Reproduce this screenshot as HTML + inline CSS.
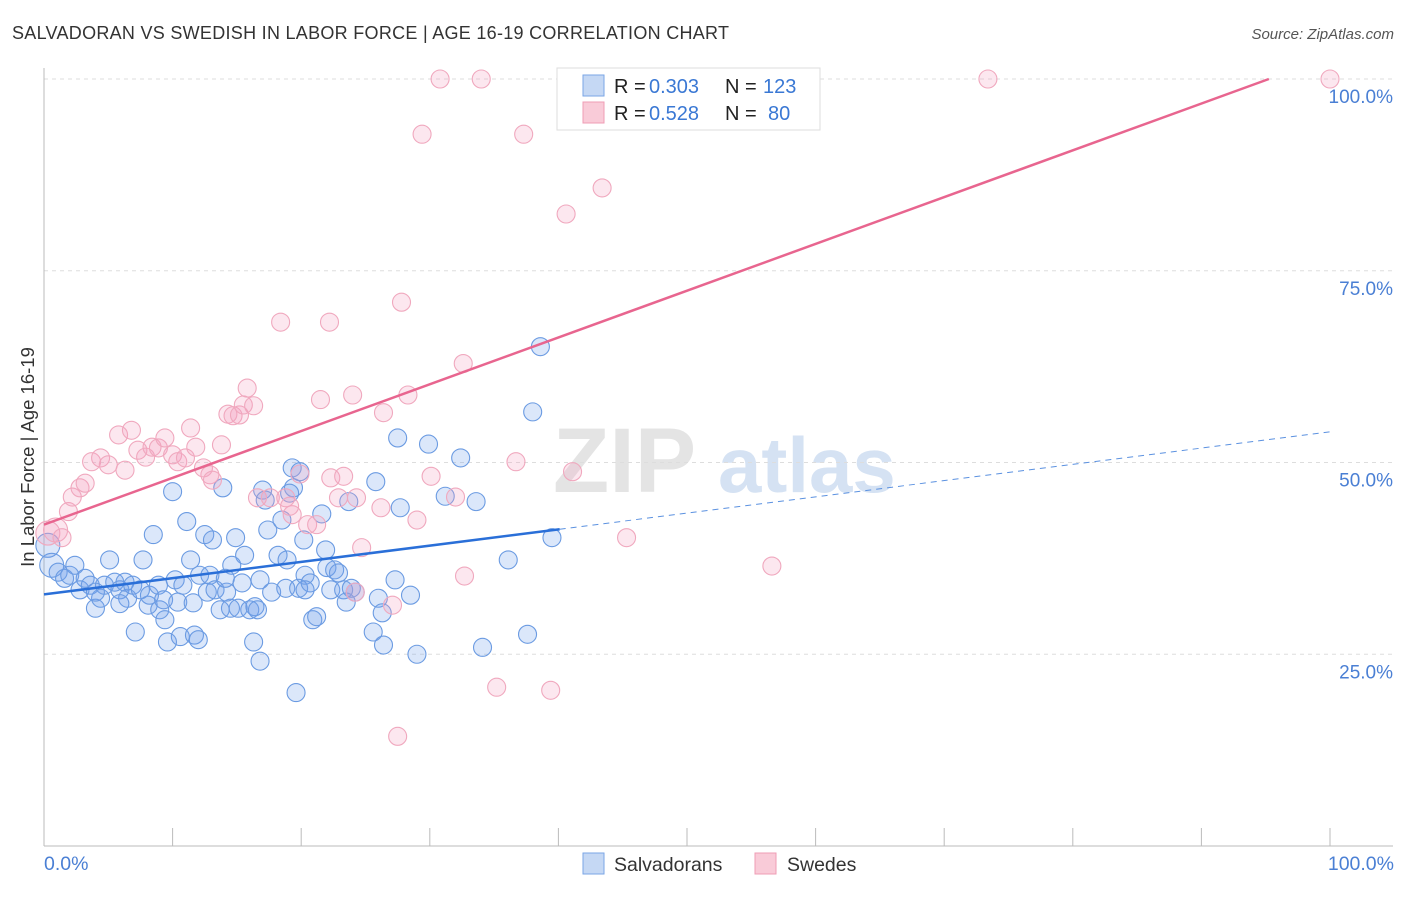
<!DOCTYPE html>
<html><head><meta charset="utf-8"><style>
body{margin:0;background:#fff;font-family:"Liberation Sans",sans-serif;}
svg text{font-family:"Liberation Sans",sans-serif;}
</style></head><body>
<svg id="chart" width="1406" height="892" xmlns="http://www.w3.org/2000/svg">
<text x="12" y="39" font-size="18" fill="#333" textLength="717">SALVADORAN VS SWEDISH IN LABOR FORCE | AGE 16-19 CORRELATION CHART</text>
<text x="1394" y="39" font-size="15" fill="#555" text-anchor="end" font-style="italic">Source: ZipAtlas.com</text>
<g><text x="553" y="492" font-size="92" fill="#e4e4e4" font-family="Liberation Serif" font-weight="bold">ZIP</text><text x="718" y="492" font-size="78" fill="#d5e2f3" font-weight="bold">atlas</text></g>
<g id="grid"></g><g id="marks"></g><g id="lines"></g>
<text transform="translate(34,457) rotate(-90)" font-size="18.5" fill="#333" text-anchor="middle">In Labor Force | Age 16-19</text>
<text x="44" y="870" font-size="19.5" fill="#4a7fd4">0.0%</text>
<text x="1394" y="870" font-size="19.5" fill="#4a7fd4" text-anchor="end">100.0%</text>
<g>
<rect x="583" y="853" width="21" height="21" fill="#c5d8f4" stroke="#7aa6e6"/>
<text x="614" y="871" font-size="19.5" fill="#333">Salvadorans</text>
<rect x="755" y="853" width="21" height="21" fill="#f9cbd8" stroke="#ef9db5"/>
<text x="787" y="871" font-size="19.5" fill="#333">Swedes</text>
</g>
<g>
<rect x="557" y="68" width="263" height="62" fill="#fff" stroke="#ddd"/>
<rect x="583" y="75" width="21" height="21" fill="#c5d8f4" stroke="#7aa6e6"/>
<rect x="583" y="102" width="21" height="21" fill="#f9cbd8" stroke="#ef9db5"/>
<text x="614" y="93" font-size="20" fill="#222">R = <tspan fill="#3a78d4" x="649">0.303</tspan><tspan x="725">N = </tspan><tspan fill="#3a78d4" x="763">123</tspan></text>
<text x="614" y="120" font-size="20" fill="#222">R = <tspan fill="#3a78d4" x="649">0.528</tspan><tspan x="725">N = </tspan><tspan fill="#3a78d4" x="768">80</tspan></text>
</g>
</svg>
<script>
const blueX=[0.3,0.6,1.1,1.6,2.0,2.4,2.8,3.2,3.6,4.0,4.4,4.7,5.1,5.5,5.9,6.3,6.5,6.9,7.1,7.5,7.7,8.1,8.2,8.5,8.9,9.0,9.3,9.4,9.6,10.0,10.2,10.4,10.6,10.8,11.1,11.4,11.6,11.7,12.0,12.1,12.5,12.7,12.9,13.1,13.3,13.7,13.9,14.2,14.5,14.6,14.9,15.1,15.4,15.6,16.0,16.3,16.4,16.6,16.8,17.0,17.2,17.4,17.7,18.2,18.5,18.8,18.9,19.3,19.4,19.6,19.8,19.9,20.2,20.3,20.7,20.9,21.2,21.6,21.9,22.0,22.3,22.6,22.9,23.3,23.5,23.7,23.9,24.2,25.6,25.8,26.0,26.3,26.4,27.3,27.5,27.7,28.5,29.0,29.9,31.2,32.4,33.6,34.1,36.1,37.6,38.0,38.6,39.5,19.1,20.3,16.8,14.1,5.9,4.0];
const blueY=[39.2,36.6,35.7,34.9,35.3,36.6,33.4,34.9,34.0,31.0,32.3,34.0,37.3,34.4,33.4,34.4,32.3,34.0,27.9,33.4,37.3,31.4,32.7,40.6,34.0,30.8,32.1,29.5,26.6,46.2,34.7,31.8,27.3,34.0,42.3,37.3,31.7,27.5,26.9,35.3,40.6,33.1,35.3,39.9,33.4,30.8,46.7,33.1,31.0,36.6,40.2,31.0,34.3,37.9,30.8,26.6,31.2,30.8,24.1,46.4,45.1,41.2,33.1,37.9,42.5,33.6,37.3,49.3,46.7,20.0,33.6,48.8,39.9,35.3,34.3,29.5,29.9,43.3,38.6,36.3,33.4,36.0,35.6,33.4,31.8,44.9,33.6,33.1,27.9,47.5,32.3,30.4,26.2,34.7,53.2,44.1,32.7,25.0,52.4,45.6,50.6,44.9,25.9,37.3,27.6,56.6,65.1,40.2,46.0,33.4,34.7,34.9,31.6,33.1];
const pinkX=[0.3,0.9,1.4,1.9,2.2,2.8,3.2,3.7,4.4,5.0,5.8,6.3,6.8,7.3,7.9,8.4,8.9,9.4,10.0,10.4,11.0,11.4,11.8,12.4,12.9,13.1,13.8,14.3,14.7,15.2,15.5,15.8,16.3,16.6,17.6,18.4,18.8,19.3,19.9,20.5,21.2,21.5,22.2,22.3,22.9,23.3,24.0,24.3,24.7,26.2,26.4,27.1,27.5,27.8,28.3,29.0,29.4,30.1,30.8,32.0,32.6,32.7,34.0,35.2,36.7,37.3,39.4,40.6,41.1,43.4,45.3,56.6,73.4,100,42.8,56.2,24.2,19.1];
const pinkY=[40.8,41.2,40.2,43.6,45.5,46.7,47.3,50.1,50.6,49.7,53.6,49.0,54.2,51.6,50.7,52.0,51.9,53.2,51.0,50.1,50.6,54.5,52.0,49.3,48.4,47.7,52.3,56.3,56.1,56.2,57.5,59.7,57.4,45.4,45.4,68.3,45.4,43.2,48.5,41.9,41.9,58.2,68.3,48.0,45.4,48.2,58.8,45.4,38.9,44.1,56.5,31.4,14.3,70.9,58.8,42.5,92.8,48.2,100,45.5,62.9,35.2,100,20.7,50.1,92.8,20.3,82.4,48.8,85.8,40.2,36.5,100,100,100,100,33.1,44.3];
const yTicks=[25,50,75,100];
const yTickLabels=["25.0%","50.0%","75.0%","100.0%"];
const xTicks=[0,10,20,30,40,50,60,70,80,90,100];
const blueTrend=[32.8,54.0];
const pinkTrend=[41.9,102.9];
const blueSolidEnd=40.1;

const NS="http://www.w3.org/2000/svg";
const X0=44,X1=1330,Y0=846,Y100=79;
function sx(v){return X0+(X1-X0)*v/100;}
function sy(v){return Y0-(Y0-Y100)*v/100;}
function mk(tag,attrs,parent){const e=document.createElementNS(NS,tag);for(const k in attrs)e.setAttribute(k,attrs[k]);parent.appendChild(e);return e;}
const grid=document.getElementById('grid'),marks=document.getElementById('marks'),lines=document.getElementById('lines');
yTicks.forEach((t,i)=>{
  const l=mk('line',{x1:44,x2:1393,y1:sy(t),y2:sy(t),stroke:'#ddd','stroke-dasharray':'4,4'},grid);
  
  
  const tx=mk('text',{x:1393,y:sy(t)+24,'font-size':19,fill:'#4a7fd4','text-anchor':'end'},grid);
  tx.textContent=yTickLabels[i];
  
  
});
const ax=mk('line',{x1:44,x2:44,y1:68,y2:846,stroke:'#bbb'},grid);


const bx=mk('line',{x1:44,x2:1393,y1:846,y2:846,stroke:'#bbb'},grid);


xTicks.forEach(t=>{
  const l=mk('line',{x1:sx(t),x2:sx(t),y1:828,y2:846,stroke:'#bbb'},grid);
  
  
});
blueX.forEach((x,i)=>{
  const c=mk('circle',{cx:sx(x),cy:sy(blueY[i]),r:x<1?12:9,fill:'rgba(110,160,235,0.25)',stroke:'#6b9be2','stroke-width':1.1},marks);
  
  
});
pinkX.forEach((x,i)=>{
  const c=mk('circle',{cx:sx(x),cy:sy(pinkY[i]),r:x<1?12:9,fill:'rgba(245,160,190,0.25)',stroke:'#f0a8be','stroke-width':1.1},marks);
  
  
});
function ty(tr,x){return tr[0]+(tr[1]-tr[0])*x/100;}
const b1=mk('line',{x1:sx(0),y1:sy(ty(blueTrend,0)),x2:sx(blueSolidEnd),y2:sy(ty(blueTrend,blueSolidEnd)),stroke:'#2a6fd8','stroke-width':2.5},lines);


const b2=mk('line',{x1:sx(blueSolidEnd),y1:sy(ty(blueTrend,blueSolidEnd)),x2:sx(100),y2:sy(ty(blueTrend,100)),stroke:'#5b91e0','stroke-width':1,'stroke-dasharray':'6,5'},lines);


const pEnd=(100-pinkTrend[0])/(pinkTrend[1]-pinkTrend[0])*100;
const p1=mk('line',{x1:sx(0),y1:sy(pinkTrend[0]),x2:sx(Math.min(100,pEnd)),y2:sy(ty(pinkTrend,Math.min(100,pEnd))),stroke:'#e8658f','stroke-width':2.5},lines);


</script>
</body></html>
